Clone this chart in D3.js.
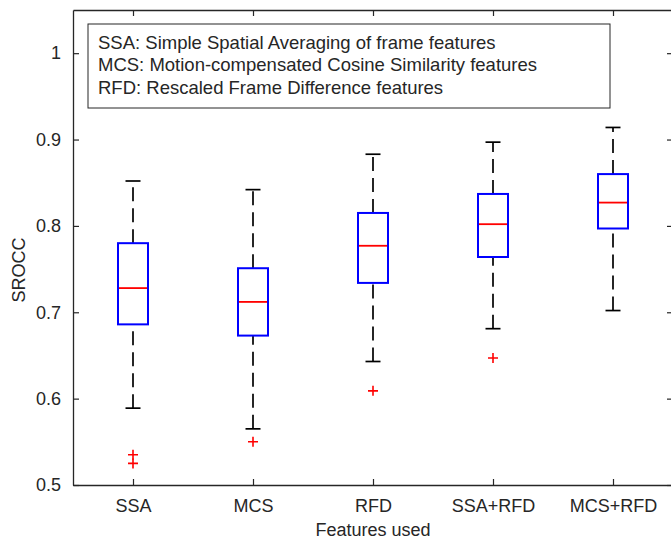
<!DOCTYPE html>
<html>
<head>
<meta charset="utf-8">
<script src="https://cdn.jsdelivr.net/npm/d3@7"></script>
<style>
  body { margin: 0; background: #fff; }
  text { font-family: "Liberation Sans", Arial, sans-serif; fill: #262626; }
</style>
</head>
<body>
<div id="chart"></div>
<script>
// categorias y estadisticos de cada caja
var categories = ["SSA", "MCS", "RFD", "SSA+RFD", "MCS+RFD"];
var whiskerHigh = [0.852, 0.842, 0.883, 0.897, 0.914];
var q3 = [0.780, 0.751, 0.815, 0.837, 0.860];
var medians = [0.728, 0.712, 0.777, 0.802, 0.827];
var q1 = [0.686, 0.673, 0.734, 0.764, 0.797];
var whiskerLow = [0.589, 0.565, 0.643, 0.681, 0.702];
var outliers = [[0.535, 0.525], [0.550], [0.609], [0.647], []];
var yTicks = [0.5, 0.6, 0.7, 0.8, 0.9, 1];
var legendLines = [
  "SSA: Simple Spatial Averaging of frame features",
  "MCS: Motion-compensated Cosine Similarity features",
  "RFD: Rescaled Frame Difference features"
];

var W = 671, H = 540;
var margin = { top: 10, right: -2, bottom: 55, left: 73 };
var width = W - margin.left - margin.right,
    height = H - margin.top - margin.bottom;

var svg = d3.select("#chart").append("svg")
    .attr("width", W).attr("height", H)
  .append("g")
    .attr("transform", "translate(" + margin.left + "," + margin.top + ")");

var x = d3.scaleLinear().domain([0.5, 5.5]).range([0, width]);
var y = d3.scaleLinear().domain([0.5, 1.05]).range([height, 0]);

var axisColor = "#262626";
var fontSize = 18;

// ejes (con ticks hacia dentro, estilo matlab)
var axLeft = svg.append("g")
  .call(d3.axisLeft(y).tickValues(yTicks).tickSizeInner(-6).tickSizeOuter(0).tickPadding(12).tickFormat(d3.format("")));
var axRight = svg.append("g").attr("transform", "translate(" + width + ",0)")
  .call(d3.axisRight(y).tickValues(yTicks).tickSizeInner(-6).tickSizeOuter(0).tickFormat(""));
var axBottom = svg.append("g").attr("transform", "translate(0," + height + ")")
  .call(d3.axisBottom(x).tickValues([1, 2, 3, 4, 5]).tickSizeInner(-6).tickSizeOuter(0).tickPadding(14)
    .tickFormat(function (d) { return categories[d - 1]; }));
var axTop = svg.append("g")
  .call(d3.axisTop(x).tickValues([1, 2, 3, 4, 5]).tickSizeInner(-6).tickSizeOuter(0).tickFormat(""));

[axLeft, axRight, axBottom, axTop].forEach(function (g) {
  g.selectAll(".domain").attr("stroke", axisColor).attr("stroke-width", 1.3);
  g.selectAll(".tick line").attr("stroke", axisColor).attr("stroke-width", 1.2);
  g.selectAll("text").attr("font-size", fontSize).attr("fill", axisColor)
    .style("font-family", "'Liberation Sans', Arial, sans-serif");
});

// leyenda de texto
var legend = svg.append("g").attr("transform", "translate(" + (88 - margin.left) + "," + (24 - margin.top) + ")");
legend.append("rect").attr("width", 522).attr("height", 84)
  .attr("fill", "#fff").attr("stroke", axisColor).attr("stroke-width", 1);
legendLines.forEach(function (t, i) {
  legend.append("text").attr("x", 10).attr("y", 25 + i * 22.3)
    .attr("font-size", 18.5).text(t);
});

var boxW = x(1.25) - x(1);
var capW = boxW / 2;

var idx = d3.range(categories.length);

// bigotes (se dibujan de abajo hacia arriba)
svg.selectAll(".wh-up").data(idx).enter().append("line")
  .attr("x1", function (i) { return x(i + 1); }).attr("x2", function (i) { return x(i + 1); })
  .attr("y1", function (i) { return y(q3[i]); }).attr("y2", function (i) { return y(whiskerHigh[i]); })
  .attr("stroke", "#000").attr("stroke-width", 1.7).attr("stroke-dasharray", "14,7");
svg.selectAll(".wh-dn").data(idx).enter().append("line")
  .attr("x1", function (i) { return x(i + 1); }).attr("x2", function (i) { return x(i + 1); })
  .attr("y1", function (i) { return y(whiskerLow[i]); }).attr("y2", function (i) { return y(q1[i]); })
  .attr("stroke", "#000").attr("stroke-width", 1.7).attr("stroke-dasharray", "14,7");
[whiskerHigh, whiskerLow].forEach(function (arr) {
  svg.selectAll(null).data(idx).enter().append("line")
    .attr("x1", function (i) { return x(i + 1) - capW / 2; })
    .attr("x2", function (i) { return x(i + 1) + capW / 2; })
    .attr("y1", function (i) { return y(arr[i]); }).attr("y2", function (i) { return y(arr[i]); })
    .attr("stroke", "#000").attr("stroke-width", 1.7);
});

// cajas
svg.selectAll(".box").data(idx).enter().append("rect")
  .attr("x", function (i) { return x(i + 1) - boxW / 2; })
  .attr("y", function (i) { return y(q3[i]); })
  .attr("width", boxW)
  .attr("height", function (i) { return y(q1[i]) - y(q3[i]); })
  .attr("fill", "#fff").attr("stroke", "#0000ff").attr("stroke-width", 2);

// medianas
svg.selectAll(".med").data(idx).enter().append("line")
  .attr("x1", function (i) { return x(i + 1) - boxW / 2 + 1; })
  .attr("x2", function (i) { return x(i + 1) + boxW / 2 - 1; })
  .attr("y1", function (i) { return y(medians[i]); }).attr("y2", function (i) { return y(medians[i]); })
  .attr("stroke", "#ff0000").attr("stroke-width", 1.8);

// outliers
var outPts = [];
outliers.forEach(function (arr, i) { arr.forEach(function (v) { outPts.push({ c: i + 1, v: v }); }); });
svg.selectAll(".out").data(outPts).enter().append("path")
  .attr("transform", function (d) { return "translate(" + x(d.c) + "," + y(d.v) + ")"; })
  .attr("d", "M-5,0H5M0,-5V5")
  .attr("stroke", "#ff0000").attr("stroke-width", 1.6);

// etiquetas de ejes
svg.append("text").attr("x", x(3)).attr("y", height + 51)
  .attr("text-anchor", "middle").attr("font-size", fontSize).text("Features used");
svg.append("text").attr("transform", "translate(" + (25 - margin.left) + "," + (270 - margin.top) + ") rotate(-90)")
  .attr("text-anchor", "middle").attr("font-size", fontSize).text("SROCC");
</script>
</body>
</html>
